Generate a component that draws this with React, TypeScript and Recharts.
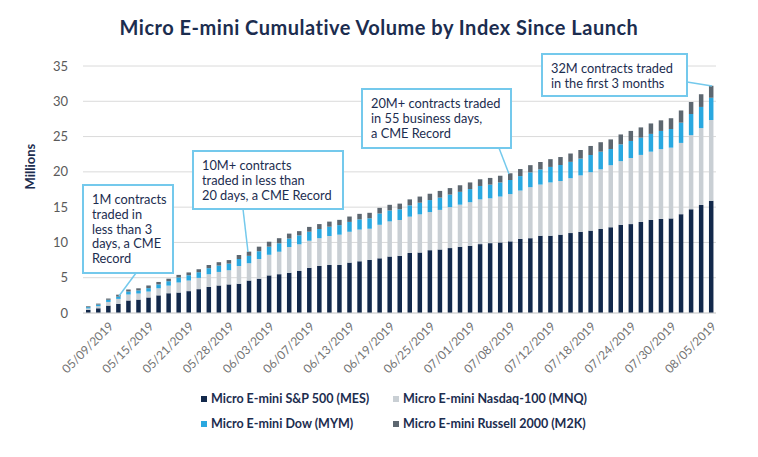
import React from 'react';
import { BarChart, Bar, XAxis, YAxis, CartesianGrid } from 'recharts';

// trading days since launch (labels shown every 4th day)
const DATES = [
  '05/07/2019', '05/08/2019', '05/09/2019', '05/10/2019', '05/13/2019', '05/14/2019', '05/15/2019',
  '05/16/2019', '05/17/2019', '05/20/2019', '05/21/2019', '05/22/2019', '05/23/2019', '05/24/2019',
  '05/28/2019', '05/29/2019', '05/30/2019', '05/31/2019',
  '06/03/2019', '06/04/2019', '06/05/2019', '06/06/2019', '06/07/2019', '06/10/2019', '06/11/2019',
  '06/12/2019', '06/13/2019', '06/14/2019', '06/17/2019', '06/18/2019', '06/19/2019', '06/20/2019',
  '06/21/2019', '06/24/2019', '06/25/2019', '06/26/2019', '06/27/2019', '06/28/2019',
  '07/01/2019', '07/02/2019', '07/03/2019', '07/05/2019', '07/08/2019', '07/09/2019', '07/10/2019',
  '07/11/2019', '07/12/2019', '07/15/2019', '07/16/2019', '07/17/2019', '07/18/2019', '07/19/2019',
  '07/22/2019', '07/23/2019', '07/24/2019', '07/25/2019', '07/26/2019', '07/29/2019', '07/30/2019',
  '07/31/2019', '08/01/2019', '08/02/2019', '08/05/2019',
];

// cumulative contracts, millions
const MES = [
  0.45, 0.67, 1.05, 1.3, 1.76, 1.9, 2.2, 2.5, 2.8, 2.9, 3.1, 3.38, 3.7, 3.9, 4.05, 4.15, 4.6, 4.86,
  5.33, 5.5, 5.7, 5.95, 6.4, 6.67, 6.8, 6.8, 7.14, 7.33, 7.52, 7.75, 8.0, 8.1, 8.5, 8.57, 8.9, 9.0,
  9.2, 9.38, 9.52, 9.76, 9.9, 10.0, 10.15, 10.5, 10.6, 10.95, 10.95, 11.1, 11.33, 11.5, 11.67, 11.9,
  12.15, 12.5, 12.6, 12.9, 13.2, 13.33, 13.4, 14.0, 14.7, 15.3, 15.9,
];
const MNQ = [
  0.2, 0.3, 0.52, 0.7, 0.85, 0.86, 0.84, 1.0, 1.08, 1.42, 1.5, 1.6, 1.79, 1.92, 2.01, 2.51, 2.45, 2.79,
  2.92, 3.18, 3.65, 3.78, 3.84, 3.93, 4.11, 4.3, 4.37, 4.49, 4.42, 4.75, 4.98, 5.08, 5.15, 5.41, 5.4, 5.61,
  5.8, 5.97, 6.18, 6.34, 6.35, 6.5, 6.7, 6.85, 7.23, 7.25, 7.55, 7.6, 7.77, 8.0, 8.28, 8.46,
  8.79, 9.02, 9.36, 9.5, 9.66, 9.89, 10.03, 10.1, 10.5, 10.9, 11.45,
];
const MYM = [
  0.18, 0.22, 0.3, 0.32, 0.42, 0.44, 0.48, 0.55, 0.62, 0.72, 0.75, 0.8, 0.86, 0.9, 0.94, 0.99, 1.05, 1.1,
  1.15, 1.2, 1.2, 1.27, 1.28, 1.3, 1.32, 1.35, 1.4, 1.45, 1.48, 1.6, 1.55, 1.52, 1.6, 1.65, 1.7, 1.74,
  1.78, 1.82, 1.86, 1.9, 1.94, 2.0, 2.0, 2.05, 2.1, 2.15, 2.2, 2.27, 2.32, 2.38, 2.44, 2.5,
  2.3, 2.38, 2.42, 2.45, 2.52, 2.58, 2.64, 2.87, 3.0, 3.0, 3.15,
];
const M2K = [
  0.12, 0.14, 0.18, 0.28, 0.3, 0.3, 0.38, 0.35, 0.36, 0.36, 0.4, 0.42, 0.45, 0.48, 0.5, 0.57, 0.6, 0.65,
  0.7, 0.72, 0.7, 0.6, 0.68, 0.7, 0.72, 0.75, 0.76, 0.78, 0.78, 0.8, 0.8, 0.8, 0.85, 0.87, 0.9, 0.95,
  0.92, 0.93, 0.94, 0.95, 0.95, 0.95, 0.95, 1.0, 1.02, 1.05, 1.1, 1.13, 1.18, 1.22, 1.28, 1.34,
  1.36, 1.4, 1.42, 1.45, 1.48, 1.5, 1.53, 1.73, 1.7, 1.8, 1.7,
];

const Y_TICKS = [0, 5, 10, 15, 20, 25, 30, 35];

const SERIES = [
  { key: 'mes', name: 'Micro E-mini S&P 500 (MES)', color: '#13294b' },
  { key: 'mnq', name: 'Micro E-mini Nasdaq-100 (MNQ)', color: '#c9cfd4' },
  { key: 'mym', name: 'Micro E-mini Dow (MYM)', color: '#2aa8e0' },
  { key: 'm2k', name: 'Micro E-mini Russell 2000 (M2K)', color: '#5d6770' },
];

const data = DATES.map((date, i) => ({
  date,
  mes: MES[i],
  mnq: MNQ[i],
  mym: MYM[i],
  m2k: M2K[i],
}));

const NAVY = '#1c2d4f';
const FONT = 'Lato, "Open Sans", sans-serif';
const BOX_BLUE = '#74c9ec';

// callout boxes drawn over the chart
const CALLOUTS = [
  {
    lines: ['1M contracts', 'traded in', 'less than 3', 'days, a CME', 'Record'],
    box: [83, 185, 90, 88],
    pointer: [136, 273, 119, 296],
  },
  {
    lines: ['10M+ contracts', 'traded in less than', '20 days, a CME Record'],
    box: [193, 151, 150, 58],
    pointer: [243, 209, 248, 252],
  },
  {
    lines: ['20M+ contracts traded', 'in 55 business days,', 'a CME Record'],
    box: [362, 89, 149, 59],
    pointer: [499, 148, 509, 174],
  },
  {
    lines: ['32M contracts traded', 'in the first 3 months'],
    box: [542, 54, 145, 42],
    pointer: [687, 82, 712, 86],
  },
];

const Callouts = () => (
  <svg width={758} height={457} style={{ position: 'absolute', left: 0, top: 0, pointerEvents: 'none' }}>
    {CALLOUTS.map((c, i) => {
      const [x, y, w, h] = c.box;
      const [x1, y1, x2, y2] = c.pointer;
      return (
        <g key={i}>
          <line x1={x1} y1={y1} x2={x2} y2={y2} stroke={BOX_BLUE} strokeWidth={1.5} />
          <rect x={x} y={y} width={w} height={h} fill="#fff" stroke={BOX_BLUE} strokeWidth={2} />
          <text x={x + 9} y={y + 19} fill={NAVY} fontFamily={FONT} fontSize={12.8}>
            {c.lines.map((l, j) => (
              <tspan key={j} x={x + 9} dy={j === 0 ? 0 : 14.8}>
                {l}
              </tspan>
            ))}
          </text>
        </g>
      );
    })}
  </svg>
);

const LegendBlock = () => (
  <div
    style={{
      position: 'absolute',
      left: 201,
      top: 390,
      display: 'grid',
      gridTemplateColumns: '192px 210px',
      rowGap: 8,
      fontFamily: FONT,
      fontSize: 12.5,
      fontWeight: 700,
      color: NAVY,
    }}
  >
    {SERIES.map((s) => (
      <div key={s.key} style={{ display: 'flex', alignItems: 'center', height: 17 }}>
        <span style={{ width: 6, height: 6, background: s.color, marginRight: 4, display: 'inline-block' }} />
        {s.name}
      </div>
    ))}
  </div>
);

export default function App() {
  return (
    <div style={{ position: 'absolute', left: 0, top: 0, width: 758, height: 457, background: '#fff', overflow: 'hidden' }}>
      <div
        style={{
          position: 'absolute',
          top: 15,
          width: 758,
          textAlign: 'center',
          fontFamily: FONT,
          fontWeight: 700,
          fontSize: 20,
          letterSpacing: 0.5,
          color: NAVY,
        }}
      >
        Micro E-mini Cumulative Volume by Index Since Launch
      </div>
      <BarChart
        width={758}
        height={457}
        data={data}
        margin={{ top: 66, right: 42, bottom: 0, left: 0 }}
        barSize={4.5}
        style={{ position: 'absolute', left: 0, top: 0 }}
      >
        <CartesianGrid vertical={false} stroke="#dadada" />
        <XAxis
          dataKey="date"
          height={144}
          interval={0}
          tickLine={false}
          axisLine={{ stroke: '#d4d4d4' }}
          angle={-45}
          textAnchor="end"
          tick={{ fill: '#747474', fontSize: 12, fontFamily: FONT }}
          tickFormatter={(v: string, i: number) => (i % 4 === 2 ? v : '')}
        />
        <YAxis
          width={83}
          domain={[0, 35]}
          ticks={Y_TICKS}
          axisLine={false}
          tickLine={false}
          tickMargin={9}
          tick={{ fill: '#5a5a5a', fontSize: 13, fontFamily: FONT }}
          label={{
            value: 'Millions',
            angle: -90,
            position: 'insideLeft',
            offset: 30,
            fill: NAVY,
            fontSize: 13,
            fontWeight: 700,
            fontFamily: FONT,
          }}
        />
        {SERIES.map((s) => (
          <Bar key={s.key} dataKey={s.key} name={s.name} stackId="vol" fill={s.color} isAnimationActive={false} />
        ))}
      </BarChart>
      <Callouts />
      <LegendBlock />
    </div>
  );
}
